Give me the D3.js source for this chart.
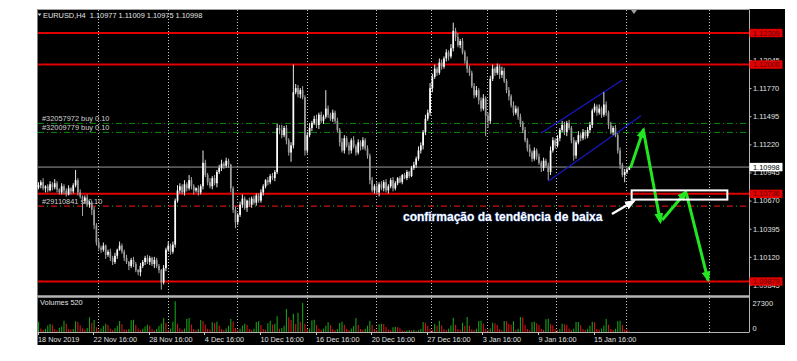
<!DOCTYPE html>
<html>
<head>
<meta charset="utf-8">
<script src="https://cdn.jsdelivr.net/npm/d3@7"></script>
<style>
body { margin: 0; background: #fff; }
svg text { font-family: "Liberation Sans", Arial, sans-serif; }
</style>
</head>
<body>
<div id="chart-area"></div>
<script>
// EURUSD H4, one value per bar (open = previous close)
var firstOpen = 1.1080;
var closes = [
  1.1082,1.1085,1.1079,1.1081,1.1077,1.1083,1.1080,1.1084,1.1078,1.1075,1.1081,1.1077,1.1073,1.1079,1.1076,1.1082,
  1.1087,1.1075,1.1071,1.1067,1.1070,1.1063,1.1065,1.1058,1.1043,1.1026,1.1021,1.1019,1.1023,1.1014,1.1017,1.1011,
  1.1007,1.1013,1.1019,1.1023,1.1017,1.1011,1.1007,1.1003,1.1009,1.1005,1.0999,1.0997,1.1003,1.1007,1.1011,1.1007,
  1.1011,1.1005,1.1009,1.1003,1.0999,1.0987,1.1001,1.1019,1.1023,1.1017,1.1024,1.1067,1.1077,1.1081,1.1075,1.1083,
  1.1079,1.1087,1.1081,1.1077,1.1079,1.1075,1.1081,1.1104,1.1092,1.1085,1.1081,1.1089,1.1084,1.1095,1.1099,1.1103,
  1.1101,1.1106,1.1102,1.1079,1.1058,1.1046,1.1053,1.1063,1.1069,1.1060,1.1067,1.1063,1.1069,1.1065,1.1072,1.1067,
  1.1075,1.1081,1.1087,1.1085,1.1091,1.1089,1.1095,1.1138,1.1136,1.1131,1.1138,1.1126,1.1114,1.1121,1.1173,1.1177,
  1.1171,1.1175,1.1168,1.1116,1.1131,1.1138,1.1143,1.1147,1.1141,1.1151,1.1145,1.1149,1.1157,1.1151,1.1147,1.1153,
  1.1145,1.1136,1.1124,1.1116,1.1128,1.1121,1.1116,1.1126,1.1120,1.1114,1.1124,1.1120,1.1126,1.1118,1.1111,1.1087,
  1.1077,1.1081,1.1075,1.1083,1.1079,1.1085,1.1077,1.1081,1.1087,1.1079,1.1084,1.1089,1.1085,1.1092,1.1089,1.1095,
  1.1091,1.1099,1.1102,1.1108,1.1116,1.1121,1.1134,1.1147,1.1153,1.1177,1.1188,1.1196,1.1192,1.1202,1.1198,1.1206,
  1.1212,1.1208,1.1216,1.1233,1.1227,1.1219,1.1223,1.1212,1.1204,1.1196,1.1192,1.1179,1.1170,1.1175,1.1165,1.1157,
  1.1167,1.1150,1.1145,1.1186,1.1196,1.1192,1.1198,1.1190,1.1194,1.1184,1.1175,1.1169,1.1160,1.1153,1.1157,1.1149,
  1.1143,1.1136,1.1126,1.1118,1.1114,1.1108,1.1116,1.1110,1.1104,1.1099,1.1106,1.1101,1.1095,1.1116,1.1126,1.1121,
  1.1128,1.1136,1.1141,1.1134,1.1143,1.1138,1.1126,1.1111,1.1124,1.1131,1.1128,1.1134,1.1130,1.1136,1.1141,1.1155,
  1.1159,1.1153,1.1157,1.1151,1.1161,1.1153,1.1141,1.1134,1.1138,1.1131,1.1116,1.1102,1.1092,1.1095,1.1097,1.10998
];
// wick lengths in pips above / below the body
var wickUp = [
  3,2,4,1,2,3,2,4,2,1,3,2,2,3,1,2, 10,2,3,1,2,3,2,1,3,2,4,2,3,1,2,3,
  2,3,1,4,2,2,3,1,2,3,2,1,3,2,2,3, 2,1,3,2,2,1,3,2,4,2,3,2,5,3,2,4,
  2,5,3,2,1,3,2,12,3,2,4,2,3,2,3,4, 2,3,2,1,2,3,2,3,4,2,1,3,2,3,2,2,
  3,2,1,3,2,3,2,4,3,5,2,3,2,3,27,4, 3,2,4,2,3,5,2,3,4,2,3,2,18,3,2,3,
  2,3,2,4,3,2,3,2,4,2,3,2,3,2,3,2, 3,2,4,2,3,2,3,2,2,3,2,1,2,1,2,2,
  1,2,3,2,4,3,2,4,3,5,3,4,2,4,3,2, 3,2,4,8,3,4,2,3,2,4,3,2,3,4,2,3,
  4,2,3,3,4,2,3,2,4,3,2,3,2,4,3,2, 3,2,3,2,4,2,3,2,3,2,3,2,3,4,3,2,
  3,2,4,3,2,3,2,3,2,4,2,3,2,3,3,2, 3,2,4,2,12,3,2,3,2,3,2,3,2,3,2,1
];
var wickDn = [
  2,3,2,4,2,1,3,2,3,2,2,4,2,1,3,2, 2,3,2,15,3,2,3,5,4,3,2,3,2,4,2,3,
  3,2,3,1,2,3,2,4,2,3,2,3,4,2,3,2, 3,2,4,2,3,7,2,3,2,3,2,3,2,3,2,3,
  3,2,3,4,2,3,2,3,2,3,2,3,2,4,2,3, 3,2,3,4,3,6,3,2,3,2,4,2,3,2,3,2,
  2,3,2,3,2,2,3,2,4,3,2,4,3,9,3,2, 3,4,2,5,3,2,3,2,3,4,2,3,2,3,2,3,
  3,2,4,2,3,2,4,3,2,3,2,4,3,2,3,4, 2,3,2,4,2,3,2,3,2,3,2,2,1,2,1,2,
  2,1,2,3,2,3,4,3,2,3,4,2,3,2,3,2, 3,4,2,3,4,2,3,2,3,4,3,2,3,2,4,3,
  2,20,7,3,2,3,2,4,3,2,3,4,2,3,2,3, 4,3,2,3,4,3,2,3,2,4,3,2,8,3,2,3,
  2,3,2,3,4,2,3,5,3,2,3,2,3,2,3,3, 2,3,2,3,2,3,4,2,3,2,3,4,2,7,2,0
];
var volumes = [
  10200,3600,2100,3300,6400,8100, 7300,2900,1800,4200,5600,11200, 8200,3100,2400,3000,10800,9900,
  6800,3700,2600,4100,14800,9200, 11900,4800,2200,3400,6100,8300, 6900,3200,1900,3800,6300,11000,
  7800,2800,2300,3100,11800,12200, 7100,3500,2000,3300,5400,7200, 6200,2700,1700,2900,6000,8400,
  14100,9000,2100,3300,10200,30800, 8300,3800,2200,3400,13200,13900, 7400,3000,2000,3100,12000,10900,
  7200,3300,2400,9800,9100,10300, 6600,3100,1900,3500,6200,13100, 10400,4100,2200,3200,6500,8200,
  7000,2900,2100,3300,10100,10800, 6900,3100,2300,8800,11200,7400, 8100,15800,3200,4100,6300,22900,
  14800,12100,18200,7900,19300,10200, 28900,8200,3100,3400,11800,12300, 7100,3200,2000,3300,6200,9800,
  6800,2900,2100,3000,9100,10200, 7200,3300,1900,3400,6000,14100, 7000,3100,2200,3200,6300,11000,
  6900,3000,2100,7800,8200,7900, 5100,2400,1800,4800,5300,4900, 3800,1800,900,1500,2100,1900,
  2200,1200,1800,3100,10100,9200, 6200,3000,2100,8100,6300,11200, 6800,3100,2000,3300,6400,14200,
  7300,2900,2200,9100,6200,15100, 6400,2800,1900,3200,10900,11300, 8200,3100,2200,3400,9200,8800,
  6900,3000,2100,11100,10800,7900, 7200,10800,2300,3200,14900,14600, 7100,3100,2000,9800,10200,8800,
  6900,3300,2200,12800,13200,7800, 6700,3000,1900,3100,8200,7600, 7000,3200,2100,3300,9900,10100,
  6800,2900,2000,3200,6200,10200, 9800,3100,2200,3400,6300,12900, 7200,3000,2100,3300,10800,11200,
  6900,2600,2400,520
];

var priceTicks = [1.12045, 1.11770, 1.11495, 1.11220, 1.10945, 1.10670, 1.10395, 1.10120, 1.09845];
var levels = [1.12309, 1.12000, 1.10736, 1.09879];
var bid = 1.10998;
var orderPrices = [1.11425, 1.11337, 1.10617];
var orderLabels = ["#32057972 buy 0.10", "#32009779 buy 0.10", "#29110841 sl 0.10"];
var dateBars = [0, 24, 48, 72, 96, 120, 144, 168, 192, 216, 240];
var dateLabels = ["18 Nov 2019", "22 Nov 16:00", "28 Nov 16:00", "4 Dec 16:00", "10 Dec 16:00", "16 Dec 16:00",
                  "20 Dec 16:00", "27 Dec 16:00", "3 Jan 16:00", "9 Jan 16:00", "15 Jan 16:00"];
var gridBars = [25.8, 55.8, 85.8, 115.8, 145.7, 169.5, 193.4, 223.3, 253.4, 289.3];
var volTicks = [27300, 0];
var header = "EURUSD,H4  1.10977 1.11009 1.10975 1.10998";

// drawn objects: channel, projected path, zone, note
var channel = [[[217, 1.1133], [252, 1.1185]], [[220, 1.1086], [260, 1.1150]]];
var projection = [
  [[255.5, 1.1099], [261.2, 1.1137]],
  [[261.2, 1.1134], [268.4, 1.1046]],
  [[269.2, 1.1048], [279.6, 1.1076]],
  [[279.6, 1.1074], [289.0, 1.0989]]
];
var zone = [[256, 1.1077], [297.3, 1.1068]];
var noteText = "confirmação da tendência de baixa";
var noteAt = [157.3, 1.10466];
var noteArrow = [[247.5, 1.10539], [257, 1.10666]];

var width = 797, height = 361;
var svg = d3.select("#chart-area").append("svg")
    .attr("width", width)
    .attr("height", height);

var x = d3.scaleLinear().domain([0, 307]).range([38.5, 38.5 + 307 * 2.317]);
var y = d3.scaleLinear().domain([1.09747, 1.12534]).range([295, 10]);
var vy = d3.scaleLinear().domain([0, 27300]).range([332, 304.7]);
var right = 749;

var defs = svg.append("defs");
function marker(id, color) {
    defs.append("marker").attr("id", id)
        .attr("markerUnits", "userSpaceOnUse")
        .attr("viewBox", "0 0 10 8").attr("refX", 8).attr("refY", 4)
        .attr("markerWidth", 11).attr("markerHeight", 9)
        .attr("orient", "auto")
      .append("path").attr("d", "M0,0L10,4L0,8Z").attr("fill", color);
}
marker("arrowG", "#22e622");
marker("arrowW", "#ffffff");

svg.append("rect").attr("x", 37.5).attr("y", 9).attr("width", 747.5).attr("height", 336).attr("fill", "#000");

// header
svg.append("path").attr("d", "M37.5,13.5L41.5,13.5L39.5,16Z").attr("fill", "#d8d8d8");
svg.append("text").attr("x", 43).attr("y", 17.6).attr("fill", "#e0e0e0").attr("font-size", "7.4px")
    .style("white-space", "pre").text(header);

// vertical dotted grid
svg.append("g").selectAll("line").data(gridBars).join("line")
    .attr("x1", d => Math.round(x(d)) + 0.5).attr("x2", d => Math.round(x(d)) + 0.5)
    .attr("y1", 10).attr("y2", 332)
    .attr("stroke", "#c8c8c8").attr("stroke-width", 1).attr("stroke-dasharray", "1,2");

// order labels (behind candles)
svg.append("g").selectAll("text").data(orderLabels).join("text")
    .attr("x", 42).attr("y", (d, i) => y(orderPrices[i]) - 2)
    .attr("fill", "#d0d0d0").attr("font-size", "7.4px").text(d => d);

// order lines
svg.append("g").selectAll("line").data(orderPrices.slice(0, 2)).join("line")
    .attr("x1", 38).attr("x2", right).attr("y1", d => y(d)).attr("y2", d => y(d))
    .attr("stroke", "#0a8a0a").attr("stroke-width", 1).attr("stroke-dasharray", "6,3,1,3");
svg.append("line").attr("x1", 38).attr("x2", right)
    .attr("y1", y(orderPrices[2])).attr("y2", y(orderPrices[2]))
    .attr("stroke", "#c81010").attr("stroke-width", 1.2).attr("stroke-dasharray", "6,7");
svg.append("line").attr("x1", 38).attr("x2", right)
    .attr("y1", y(orderPrices[2])).attr("y2", y(orderPrices[2]))
    .attr("stroke", "#1a9a1a").attr("stroke-width", 1.2).attr("stroke-dasharray", "1,12").attr("stroke-dashoffset", 4);

// horizontal levels
svg.append("g").selectAll("line").data(levels).join("line")
    .attr("x1", 38).attr("x2", right).attr("y1", d => y(d)).attr("y2", d => y(d))
    .attr("stroke", "#e00000").attr("stroke-width", 2);

// bid line
svg.append("line").attr("x1", 38).attr("x2", right).attr("y1", y(bid)).attr("y2", y(bid))
    .attr("stroke", "#9a9a9a").attr("stroke-width", 1);

// channel
svg.append("g").selectAll("line").data(channel).join("line")
    .attr("x1", d => x(d[0][0])).attr("y1", d => y(d[0][1]))
    .attr("x2", d => x(d[1][0])).attr("y2", d => y(d[1][1]))
    .attr("stroke", "#1818c8").attr("stroke-width", 1.2);

// candles
var bars = closes.map(function(c, i) {
    var o = i ? closes[i - 1] : firstOpen;
    return {i: i, o: o, c: c,
            h: Math.max(o, c) + wickUp[i] / 10000,
            l: Math.min(o, c) - wickDn[i] / 10000,
            v: volumes[i], pv: i ? volumes[i - 1] : 0};
});
var candles = svg.append("g");
candles.selectAll("line").data(bars).join("line")
    .attr("x1", d => x(d.i)).attr("x2", d => x(d.i))
    .attr("y1", d => y(d.h)).attr("y2", d => y(d.l))
    .attr("stroke", d => d.c >= d.o ? "#e8e8e8" : "#a8a8a8").attr("stroke-width", 1);
candles.selectAll("rect").data(bars).join("rect")
    .attr("x", d => x(d.i) - 0.85).attr("width", 1.7)
    .attr("y", d => y(Math.max(d.o, d.c)))
    .attr("height", d => Math.max(1, Math.abs(y(d.o) - y(d.c))))
    .attr("fill", d => d.c >= d.o ? "#ffffff" : "#9c9c9c");

// projected path arrows
svg.append("g").selectAll("line").data(projection).join("line")
    .attr("x1", d => x(d[0][0])).attr("y1", d => y(d[0][1]))
    .attr("x2", d => x(d[1][0])).attr("y2", d => y(d[1][1]))
    .attr("stroke", "#22e622").attr("stroke-width", 3)
    .attr("marker-end", "url(#arrowG)");

// confirmation zone
svg.append("rect")
    .attr("x", x(zone[0][0])).attr("y", y(zone[0][1]))
    .attr("width", x(zone[1][0]) - x(zone[0][0])).attr("height", y(zone[1][1]) - y(zone[0][1]))
    .attr("fill", "none").attr("stroke", "#ffffff").attr("stroke-width", 2);

// note
svg.append("line")
    .attr("x1", x(noteArrow[0][0])).attr("y1", y(noteArrow[0][1]))
    .attr("x2", x(noteArrow[1][0])).attr("y2", y(noteArrow[1][1]))
    .attr("stroke", "#ffffff").attr("stroke-width", 2.5).attr("marker-end", "url(#arrowW)");
svg.append("text").attr("x", x(noteAt[0])).attr("y", y(noteAt[1]))
    .attr("fill", "#ffffff").attr("font-size", "12px").attr("font-weight", "bold")
    .attr("stroke", "#3a5aa0").attr("stroke-width", 0.8).attr("paint-order", "stroke")
    .text(noteText);

// chart shift marker
svg.append("path").attr("d", "M" + (x(257) - 3) + ",10L" + (x(257) + 3) + ",10L" + x(257) + ",14Z").attr("fill", "#a0a0a0");

// frames
svg.append("line").attr("x1", 37.5).attr("x2", right).attr("y1", 9.5).attr("y2", 9.5).attr("stroke", "#a0a0a0");
svg.append("line").attr("x1", 37.5).attr("x2", right).attr("y1", 296.5).attr("y2", 296.5).attr("stroke", "#b4b4b4").attr("stroke-width", 2.5);
svg.append("line").attr("x1", 37.5).attr("x2", right).attr("y1", 332.5).attr("y2", 332.5).attr("stroke", "#b4b4b4");

// price axis
var yAxis = svg.append("g").attr("transform", "translate(" + (right + 0.5) + ",0)")
    .call(d3.axisRight(y).tickValues(priceTicks).tickFormat(d3.format(".5f")).tickSize(2).tickPadding(1.5));
yAxis.select(".domain").attr("stroke", "#b4b4b4").attr("d", "M0,9.5V332.5");
yAxis.selectAll(".tick line").attr("stroke", "#c8c8c8");
yAxis.selectAll(".tick text").attr("fill", "#e0e0e0").attr("font-size", "7.4px")
    .attr("font-family", "Liberation Sans, Arial, sans-serif");

// level tags
var tags = svg.append("g").selectAll("g").data(levels).join("g")
    .attr("transform", d => "translate(" + (right + 0.5) + "," + y(d) + ")");
tags.append("rect").attr("x", 0).attr("y", -4.2).attr("width", 33).attr("height", 8.4).attr("fill", "#e00000");
tags.append("text").attr("x", 3.5).attr("dy", "0.35em").attr("fill", "#600000").attr("font-size", "7.4px")
    .text(d => d3.format(".5f")(d));

var bidTag = svg.append("g").attr("transform", "translate(" + (right + 0.5) + "," + y(bid) + ")");
bidTag.append("rect").attr("x", 0).attr("y", -4.2).attr("width", 33).attr("height", 8.4).attr("fill", "#ffffff");
bidTag.append("text").attr("x", 3.5).attr("dy", "0.35em").attr("fill", "#000").attr("font-size", "7.4px")
    .text(d3.format(".5f")(bid));

// volumes
svg.append("text").attr("x", 40).attr("y", 304.5).attr("fill", "#e0e0e0").attr("font-size", "7.4px")
    .text("Volumes " + volumes[volumes.length - 1]);
svg.append("g").selectAll("line").data(bars).join("line")
    .attr("x1", d => x(d.i)).attr("x2", d => x(d.i))
    .attr("y1", vy(0)).attr("y2", d => vy(d.v))
    .attr("stroke", d => d.v > d.pv ? "#16a016" : "#d01414").attr("stroke-width", 1.1);
svg.append("g").selectAll("text").data(volTicks).join("text")
    .attr("x", right + 3.5).attr("y", d => d === 0 ? 330.5 : vy(d) + 1.5)
    .attr("fill", "#e0e0e0").attr("font-size", "7.4px").text(d => d);

// time axis
var tAxis = svg.append("g");
tAxis.selectAll("line").data(dateBars).join("line")
    .attr("x1", d => Math.round(x(d)) - 0.5).attr("x2", d => Math.round(x(d)) - 0.5)
    .attr("y1", 332).attr("y2", 335).attr("stroke", "#c8c8c8");
tAxis.selectAll("text").data(dateLabels).join("text")
    .attr("x", (d, i) => x(dateBars[i]) - 0.5).attr("y", 342)
    .attr("fill", "#e0e0e0").attr("font-size", "7.3px").text(d => d);
</script>
</body>
</html>
